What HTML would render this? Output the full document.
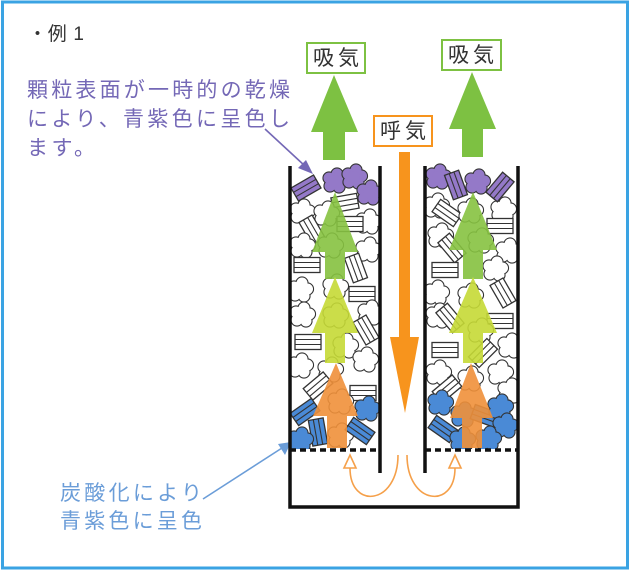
<!DOCTYPE html>
<html><head><meta charset="utf-8"><style>
html,body{margin:0;padding:0;background:#fff}
svg{display:block}
text{font-family:"Liberation Sans","Noto Sans CJK JP",sans-serif}
</style></head><body>
<svg width="631" height="572" viewBox="0 0 631 572" xmlns="http://www.w3.org/2000/svg">
<defs>
<g id="cl">
 <g fill="#333" stroke="#333" stroke-width="2.2">
  <circle cx="-6" cy="-3" r="5.5"/><circle cx="2" cy="-7" r="5.5"/><circle cx="7.5" cy="-1" r="5.5"/><circle cx="4" cy="6" r="5.5"/><circle cx="-5" cy="5" r="5.5"/><circle cx="0" cy="0" r="6"/>
 </g>
 <g>
  <circle cx="-6" cy="-3" r="5.5"/><circle cx="2" cy="-7" r="5.5"/><circle cx="7.5" cy="-1" r="5.5"/><circle cx="4" cy="6" r="5.5"/><circle cx="-5" cy="5" r="5.5"/><circle cx="0" cy="0" r="6"/>
 </g>
</g>
<g id="rc">
 <rect x="-13" y="-7.5" width="26" height="15" stroke="#333" stroke-width="1.3"/>
 <path d="M-13 -2.5H13M-13 2.5H13" stroke="#333" stroke-width="1.1" fill="none"/>
</g>
<clipPath id="cL"><rect x="291.5" y="160" width="87" height="289"/></clipPath>
<clipPath id="cR"><rect x="426.5" y="160" width="90" height="289"/></clipPath>
</defs>

<rect x="2.5" y="2" width="625" height="566" fill="#fff" stroke="#3aa3e3" stroke-width="3"/>

<text x="28" y="40" font-size="19" fill="#333" textLength="56" lengthAdjust="spacing">・例 1</text>

<g fill="#7468b6" font-size="21">
<text x="27" y="97" textLength="263" lengthAdjust="spacing">顆粒表面が一時的の乾燥</text>
<text x="27" y="126" textLength="263" lengthAdjust="spacing">により、青紫色に呈色し</text>
<text x="27" y="155" textLength="68" lengthAdjust="spacing">ます。</text>
</g>
<line x1="265" y1="129" x2="305" y2="166" stroke="#7468b6" stroke-width="1.6"/>
<polygon points="313,174 298,168 306,160" fill="#7468b6"/>

<g fill="#6b9dd8" font-size="21">
<text x="60" y="500" textLength="142" lengthAdjust="spacing">炭酸化により</text>
<text x="60" y="528" textLength="142" lengthAdjust="spacing">青紫色に呈色</text>
</g>
<line x1="203" y1="499" x2="282" y2="448" stroke="#6b9dd8" stroke-width="1.6"/>
<polygon points="291,442 285,455 278,444" fill="#6b9dd8"/>

<!-- particles left tube -->
<g clip-path="url(#cL)">
 <g fill="#fff">
  <use href="#rc" transform="translate(345,203) rotate(-10)"/>
  <use href="#cl" transform="translate(302,212)"/>
  <use href="#cl" transform="translate(326,214)"/>
  <use href="#rc" transform="translate(312,230) rotate(60)"/>
  <use href="#cl" transform="translate(368,222)"/>
  <use href="#rc" transform="translate(350,224)"/>
  <use href="#cl" transform="translate(302,246)"/>
  <use href="#cl" transform="translate(330,246)"/>
  <use href="#cl" transform="translate(368,250)"/>
  <use href="#rc" transform="translate(307,265)"/>
  <use href="#rc" transform="translate(356,268) rotate(70)"/>
  <use href="#cl" transform="translate(300,290)"/>
  <use href="#cl" transform="translate(335,287)"/>
  <use href="#rc" transform="translate(362,294)"/>
  <use href="#cl" transform="translate(370,313)"/>
  <use href="#cl" transform="translate(302,315)"/>
  <use href="#cl" transform="translate(335,316)"/>
  <use href="#rc" transform="translate(366,330) rotate(60)"/>
  <use href="#rc" transform="translate(308,342)"/>
  <use href="#cl" transform="translate(345,346)"/>
  <use href="#cl" transform="translate(300,366)"/>
  <use href="#cl" transform="translate(365,360)"/>
  <use href="#cl" transform="translate(330,370)"/>
  <use href="#rc" transform="translate(318,386) rotate(-40)"/>
  <use href="#rc" transform="translate(363,393)"/>
  <use href="#cl" transform="translate(340,402)"/>
  <use href="#cl" transform="translate(340,436)"/>
 </g>
 <g fill="#9479c8">
  <use href="#rc" transform="translate(306,188) rotate(-30)"/>
  <use href="#cl" transform="translate(335,181)"/>
  <use href="#cl" transform="translate(354,177)"/>
  <use href="#cl" transform="translate(369,193)"/>
 </g>
 <g fill="#4a8ad6">
  <use href="#rc" transform="translate(305,412) rotate(-35)"/>
  <use href="#cl" transform="translate(367,409)"/>
  <use href="#rc" transform="translate(318,432) rotate(80)"/>
  <use href="#cl" transform="translate(300,440)"/>
  <use href="#rc" transform="translate(360,431) rotate(35)"/>
 </g>
</g>

<!-- particles right tube -->
<g clip-path="url(#cR)">
 <g fill="#fff">
  <use href="#cl" transform="translate(436,206)"/>
  <use href="#rc" transform="translate(447,213) rotate(35)"/>
  <use href="#cl" transform="translate(470,211)"/>
  <use href="#cl" transform="translate(503,210)"/>
  <use href="#rc" transform="translate(500,226)"/>
  <use href="#cl" transform="translate(440,236)"/>
  <use href="#rc" transform="translate(452,248) rotate(50)"/>
  <use href="#cl" transform="translate(480,241)"/>
  <use href="#cl" transform="translate(508,251)"/>
  <use href="#rc" transform="translate(445,270)"/>
  <use href="#cl" transform="translate(495,269)"/>
  <use href="#cl" transform="translate(436,293)"/>
  <use href="#rc" transform="translate(503,293) rotate(60)"/>
  <use href="#cl" transform="translate(470,296)"/>
  <use href="#cl" transform="translate(438,316)"/>
  <use href="#rc" transform="translate(450,318) rotate(50)"/>
  <use href="#rc" transform="translate(500,321)"/>
  <use href="#cl" transform="translate(480,331)"/>
  <use href="#cl" transform="translate(510,346)"/>
  <use href="#rc" transform="translate(445,350)"/>
  <use href="#rc" transform="translate(483,353) rotate(-45)"/>
  <use href="#cl" transform="translate(438,373)"/>
  <use href="#cl" transform="translate(500,373)"/>
  <use href="#cl" transform="translate(470,379)"/>
  <use href="#rc" transform="translate(447,389) rotate(-40)"/>
  <use href="#cl" transform="translate(510,391)"/>
 </g>
 <g fill="#9479c8">
  <use href="#cl" transform="translate(438,177)"/>
  <use href="#rc" transform="translate(456,185) rotate(70)"/>
  <use href="#cl" transform="translate(477,182)"/>
  <use href="#rc" transform="translate(500,187) rotate(-50)"/>
 </g>
 <g fill="#4a8ad6">
  <use href="#cl" transform="translate(440,403)"/>
  <use href="#cl" transform="translate(463,415)"/>
  <use href="#rc" transform="translate(485,416) rotate(20)"/>
  <use href="#cl" transform="translate(500,407)"/>
  <use href="#cl" transform="translate(505,426)"/>
  <use href="#rc" transform="translate(443,429) rotate(35)"/>
  <use href="#cl" transform="translate(488,439)"/>
  <use href="#cl" transform="translate(462,440)"/>
 </g>
</g>

<!-- arrows in tubes -->
<g opacity="0.9">
 <polygon points="335,192 358,252 345,252 345,279 325,279 325,252 312,252" fill="#86c240"/>
 <polygon points="335,277 358,333 345,333 345,363 325,363 325,333 312,333" fill="#c6da36"/>
 <polygon points="336,363 358,416 347,416 347,448 327,448 327,416 313,416" fill="#f0903a"/>
 <polygon points="473,192 497,250 483,250 483,279 463,279 463,250 449,250" fill="#86c240"/>
 <polygon points="473,277 497,333 483,333 483,363 463,363 463,333 449,333" fill="#c6da36"/>
 <polygon points="471,363 493,418 482,418 482,448 462,448 462,418 450,418" fill="#f0903a"/>
</g>

<!-- tube walls -->
<g stroke="#111" stroke-width="3.5" fill="none">
 <path d="M290 166V507H518V166"/>
 <path d="M380 166V473"/>
 <path d="M425 166V473"/>
</g>
<g stroke="#111" stroke-width="3.5" stroke-dasharray="6 4">
 <line x1="290" y1="450" x2="380" y2="450"/>
 <line x1="425" y1="450" x2="518" y2="450"/>
</g>

<!-- orange U arrows -->
<g stroke="#f5a04a" stroke-width="1.6" fill="none">
 <path d="M398 455 C398 505, 350 510, 350 468"/>
 <path d="M407 455 C407 505, 455 510, 455 468"/>
</g>
<g stroke="#f5a04a" stroke-width="1.6" fill="#fff">
 <polygon points="344,468 356,468 350,455"/>
 <polygon points="449,468 461,468 455,455"/>
</g>

<!-- central orange down arrow -->
<rect x="399" y="152" width="11" height="187" fill="#f7941d"/>
<polygon points="390,337 419,337 405,413" fill="#f7941d"/>

<!-- top green arrows -->
<polygon points="334,75 358,132 345,132 345,160 323,160 323,132 311,132" fill="#7dc142"/>
<polygon points="472,72 496,129 483,129 483,157 462,157 462,129 449,129" fill="#7dc142"/>

<!-- labels -->
<rect x="307" y="43" width="58" height="30" fill="#fff" stroke="#7dc142" stroke-width="2"/>
<text x="313" y="65" font-size="21" fill="#333" textLength="46" lengthAdjust="spacing">吸気</text>
<rect x="442" y="40" width="59" height="30" fill="#fff" stroke="#7dc142" stroke-width="2"/>
<text x="448" y="62" font-size="21" fill="#333" textLength="46" lengthAdjust="spacing">吸気</text>
<rect x="374" y="116" width="58" height="30" fill="#fff" stroke="#f7941d" stroke-width="2"/>
<text x="380" y="138" font-size="21" fill="#333" textLength="46" lengthAdjust="spacing">呼気</text>
</svg>
</body></html>
